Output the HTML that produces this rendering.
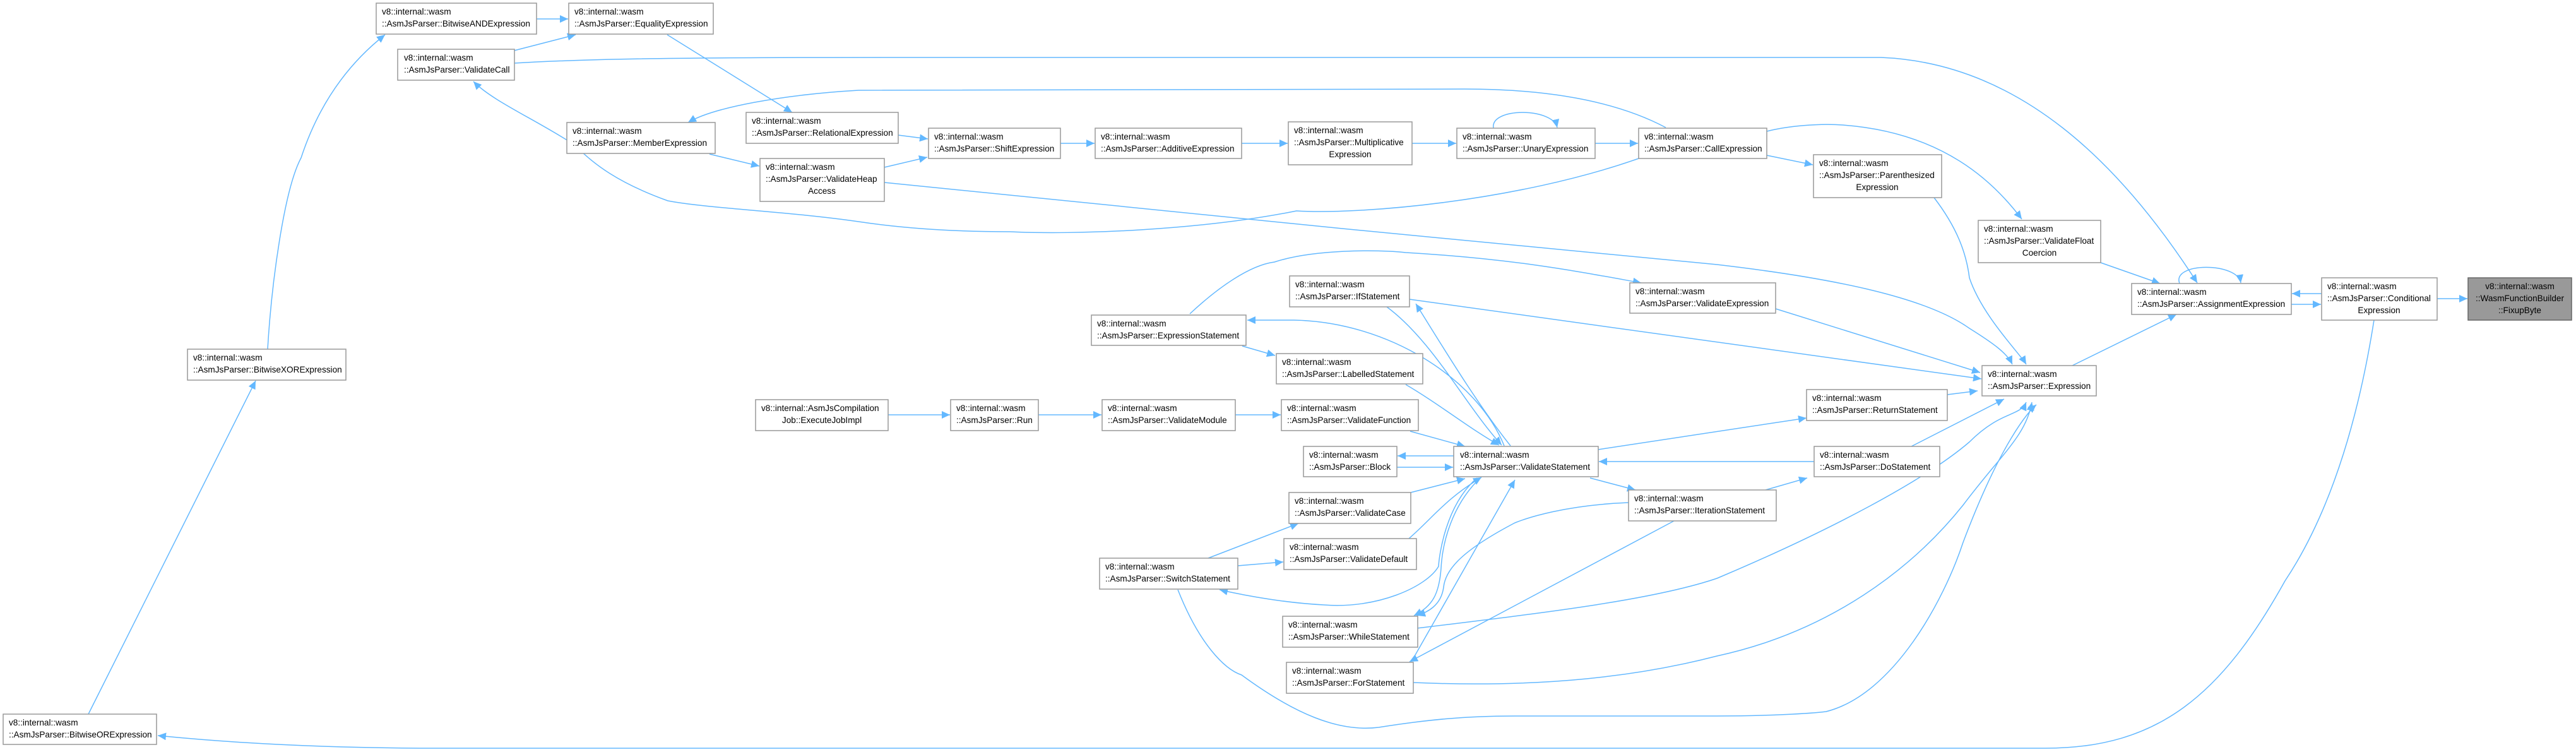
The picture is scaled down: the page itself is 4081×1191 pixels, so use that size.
<!DOCTYPE html>
<html><head><meta charset="utf-8"><style>
html,body{margin:0;padding:0;background:#fff;}
svg{display:block;}
text{font-family:"Liberation Sans",sans-serif;font-size:13.6px;fill:#000;}
.n{fill:#fff;stroke:#999;stroke-width:1.5;}
.e{fill:none;stroke:#63b8ff;stroke-width:1.5;}
</style></head><body>
<svg width="4081" height="1191" viewBox="0 0 4081 1191" xmlns="http://www.w3.org/2000/svg">
<defs>
<marker id="a" markerUnits="userSpaceOnUse" markerWidth="14" markerHeight="12" refX="13" refY="6" orient="auto">
<path d="M0,0 L13,6 L0,12 z" fill="#63b8ff"/>
</marker>
</defs>
<g marker-end="url(#a)">
<path class="e" d="M850,30 L900,30"/>
<path class="e" d="M815,80 L912,55"/>
<path class="e" d="M1057,55 L1255,178"/>
<path class="e" d="M815,100 C900,95 1000,91 1400,91 L2980,91 C3200,100 3360,260 3481,448"/>
<path class="e" d="M2639,202 C2560,160 2450,141 2320,141 L1360,143 C1240,150 1130,170 1090,194"/>
<path class="e" d="M1124,244 L1203,263"/>
<path class="e" d="M1423,214 L1470,220"/>
<path class="e" d="M1401,265 L1469,249"/>
<path class="e" d="M1680,227 L1734,227"/>
<path class="e" d="M1967,227 L2040,227"/>
<path class="e" d="M2237,227 L2307,227"/>
<path class="e" d="M2366,203 C2360,170 2460,170 2467,202"/>
<path class="e" d="M2527,227 L2595,227"/>
<path class="e" d="M2596,251 C2400,320 2150,340 2054,334 C1900,365 1700,372 1600,367 C1500,367 1420,360 1360,351 C1250,335 1120,330 1058,318 C980,290 940,260 911,230 C850,190 780,160 750,129"/>
<path class="e" d="M1401,289 C1800,330 2300,380 2720,419 C2900,440 3050,470 3120,520 C3160,545 3180,560 3188,577"/>
<path class="e" d="M2799,246 L2872,261"/>
<path class="e" d="M2799,208 C2830,200 2880,195 2920,198 C3080,210 3160,290 3203,347"/>
<path class="e" d="M3064,313 C3100,360 3115,400 3120,440 C3140,500 3200,560 3210,577"/>
<path class="e" d="M3328,416 L3422,449"/>
<path class="e" d="M3453,449 C3440,415 3545,415 3550,448"/>
<path class="e" d="M3678,465 L3631,465"/>
<path class="e" d="M3630,482 L3677,482"/>
<path class="e" d="M3861,473 L3909,473"/>
<path class="e" d="M3283,579 L3448,498"/>
<path class="e" d="M3761,507 C3740,640 3700,800 3620,920 C3520,1100 3420,1185 3241,1185 L694,1185 C500,1185 350,1175 250,1165"/>
<path class="e" d="M140,1131 L405,603"/>
<path class="e" d="M424,553 C430,450 450,300 477,250 C500,180 540,110 610,55"/>
<path class="e" d="M1885,497 C1930,455 1980,420 2019,415 C2080,395 2180,395 2227,400 C2400,410 2500,430 2600,448"/>
<path class="e" d="M2813,489 L3137,590"/>
<path class="e" d="M2233,474 L3139,600"/>
<path class="e" d="M2383,706 C2340,600 2200,510 2050,507 L1976,507"/>
<path class="e" d="M1968,548 L2020,563"/>
<path class="e" d="M2393,706 C2340,640 2280,540 2243,481"/>
<path class="e" d="M2197,486 C2270,540 2320,640 2379,705"/>
<path class="e" d="M2227,609 C2280,640 2330,680 2375,705"/>
<path class="e" d="M1407,657 L1505,657"/>
<path class="e" d="M1645,657 L1745,657"/>
<path class="e" d="M1957,657 L2029,657"/>
<path class="e" d="M2234,683 L2321,707"/>
<path class="e" d="M2303,722 L2214,722"/>
<path class="e" d="M2213,740 L2302,740"/>
<path class="e" d="M2235,780 L2321,758"/>
<path class="e" d="M2232,853 C2270,820 2290,790 2347,756"/>
<path class="e" d="M1914,884 L2057,829"/>
<path class="e" d="M1961,896 L2033,890"/>
<path class="e" d="M2340,757 C2290,800 2280,880 2279,897 C2260,930 2180,965 2097,958 C2040,955 1980,945 1932,934"/>
<path class="e" d="M2345,757 C2300,800 2285,860 2283,900 C2280,940 2270,960 2240,975"/>
<path class="e" d="M2236,1048 L2400,760"/>
<path class="e" d="M2652,825 L2233,1048"/>
<path class="e" d="M2580,796 C2480,800 2420,820 2400,828 C2320,870 2290,900 2287,930 C2283,960 2260,970 2245,975"/>
<path class="e" d="M2519,757 L2591,776"/>
<path class="e" d="M2797,776 L2863,757"/>
<path class="e" d="M2874,731 L2533,731"/>
<path class="e" d="M2532,712 L2862,662"/>
<path class="e" d="M3085,625 L3133,619"/>
<path class="e" d="M3028,707 L3175,632"/>
<path class="e" d="M2245,995 C2450,970 2620,950 2720,916 C2900,840 3050,760 3120,700 C3170,650 3200,660 3210,637"/>
<path class="e" d="M2239,1081 C2450,1090 2600,1070 2720,1039 C2900,1000 3030,900 3110,800 C3170,720 3210,690 3219,637"/>
<path class="e" d="M1866,934 C1900,1020 1940,1060 1967,1069 C2050,1130 2120,1160 2184,1152 C2260,1140 2320,1134 2400,1134 L2720,1134 C2800,1134 2870,1130 2893,1127 C3000,1100 3080,950 3110,859 C3170,700 3215,650 3226,641"/>
</g>
<!-- nodes -->
<g>
<rect class="n" x="596" y="5" width="254" height="49"/><text x="605" y="23">v8::internal::wasm</text><text x="605" y="42">::AsmJsParser::BitwiseANDExpression</text>
<rect class="n" x="901" y="5" width="229" height="49"/><text x="910" y="23">v8::internal::wasm</text><text x="910" y="42">::AsmJsParser::EqualityExpression</text>
<rect class="n" x="630" y="78" width="185" height="49"/><text x="640" y="96">v8::internal::wasm</text><text x="640" y="115">::AsmJsParser::ValidateCall</text>
<rect class="n" x="898" y="194" width="235" height="49"/><text x="907" y="212">v8::internal::wasm</text><text x="907" y="231">::AsmJsParser::MemberExpression</text>
<rect class="n" x="1182" y="178" width="241" height="49"/><text x="1191" y="196">v8::internal::wasm</text><text x="1191" y="215">::AsmJsParser::RelationalExpression</text>
<rect class="n" x="1204" y="251" width="197" height="68"/><text x="1213" y="269">v8::internal::wasm</text><text x="1213" y="288">::AsmJsParser::ValidateHeap</text><text x="1302" y="307" text-anchor="middle">Access</text>
<rect class="n" x="297" y="553" width="251" height="49"/><text x="306" y="571">v8::internal::wasm</text><text x="306" y="590">::AsmJsParser::BitwiseXORExpression</text>
<rect class="n" x="5" y="1131" width="243" height="48"/><text x="14" y="1149">v8::internal::wasm</text><text x="14" y="1168">::AsmJsParser::BitwiseORExpression</text>
<rect class="n" x="1471" y="203" width="209" height="48"/><text x="1480" y="221">v8::internal::wasm</text><text x="1480" y="240">::AsmJsParser::ShiftExpression</text>
<rect class="n" x="1735" y="203" width="232" height="48"/><text x="1744" y="221">v8::internal::wasm</text><text x="1744" y="240">::AsmJsParser::AdditiveExpression</text>
<rect class="n" x="2041" y="193" width="196" height="68"/><text x="2050" y="211">v8::internal::wasm</text><text x="2050" y="230">::AsmJsParser::Multiplicative</text><text x="2139" y="249" text-anchor="middle">Expression</text>
<rect class="n" x="2308" y="203" width="219" height="48"/><text x="2317" y="221">v8::internal::wasm</text><text x="2317" y="240">::AsmJsParser::UnaryExpression</text>
<rect class="n" x="2596" y="203" width="203" height="48"/><text x="2605" y="221">v8::internal::wasm</text><text x="2605" y="240">::AsmJsParser::CallExpression</text>
<rect class="n" x="2873" y="245" width="203" height="68"/><text x="2882" y="263">v8::internal::wasm</text><text x="2882" y="282">::AsmJsParser::Parenthesized</text><text x="2974" y="301" text-anchor="middle">Expression</text>
<rect class="n" x="3134" y="349" width="194" height="67"/><text x="3143" y="367">v8::internal::wasm</text><text x="3143" y="386">::AsmJsParser::ValidateFloat</text><text x="3231" y="405" text-anchor="middle">Coercion</text>
<rect class="n" x="2582" y="448" width="231" height="48"/><text x="2591" y="466">v8::internal::wasm</text><text x="2591" y="485">::AsmJsParser::ValidateExpression</text>
<rect class="n" x="3377" y="449" width="253" height="49"/><text x="3386" y="467">v8::internal::wasm</text><text x="3386" y="486">::AsmJsParser::AssignmentExpression</text>
<rect class="n" x="3678" y="440" width="183" height="67"/><text x="3687" y="458">v8::internal::wasm</text><text x="3687" y="477">::AsmJsParser::Conditional</text><text x="3769" y="496" text-anchor="middle">Expression</text>
<rect x="3910" y="440" width="164" height="67" fill="#999" stroke="#666" stroke-width="1.5"/><text x="3992" y="458" text-anchor="middle">v8::internal::wasm</text><text x="3992" y="477" text-anchor="middle">::WasmFunctionBuilder</text><text x="3992" y="496" text-anchor="middle">::FixupByte</text>
<rect class="n" x="3140" y="579" width="181" height="48"/><text x="3149" y="597">v8::internal::wasm</text><text x="3149" y="616">::AsmJsParser::Expression</text>
<rect class="n" x="2043" y="437" width="190" height="49"/><text x="2052" y="455">v8::internal::wasm</text><text x="2052" y="474">::AsmJsParser::IfStatement</text>
<rect class="n" x="1729" y="499" width="245" height="48"/><text x="1738" y="517">v8::internal::wasm</text><text x="1738" y="536">::AsmJsParser::ExpressionStatement</text>
<rect class="n" x="2022" y="560" width="232" height="48"/><text x="2031" y="578">v8::internal::wasm</text><text x="2031" y="597">::AsmJsParser::LabelledStatement</text>
<rect class="n" x="1197" y="633" width="210" height="49"/><text x="1206" y="651">v8::internal::AsmJsCompilation</text><text x="1302" y="670" text-anchor="middle">Job::ExecuteJobImpl</text>
<rect class="n" x="1506" y="633" width="139" height="49"/><text x="1515" y="651">v8::internal::wasm</text><text x="1515" y="670">::AsmJsParser::Run</text>
<rect class="n" x="1746" y="633" width="211" height="49"/><text x="1755" y="651">v8::internal::wasm</text><text x="1755" y="670">::AsmJsParser::ValidateModule</text>
<rect class="n" x="2030" y="633" width="217" height="49"/><text x="2039" y="651">v8::internal::wasm</text><text x="2039" y="670">::AsmJsParser::ValidateFunction</text>
<rect class="n" x="2065" y="707" width="148" height="48"/><text x="2074" y="725">v8::internal::wasm</text><text x="2074" y="744">::AsmJsParser::Block</text>
<rect class="n" x="2303" y="707" width="229" height="48"/><text x="2313" y="725">v8::internal::wasm</text><text x="2313" y="744">::AsmJsParser::ValidateStatement</text>
<rect class="n" x="2042" y="780" width="193" height="49"/><text x="2051" y="798">v8::internal::wasm</text><text x="2051" y="817">::AsmJsParser::ValidateCase</text>
<rect class="n" x="2034" y="853" width="210" height="49"/><text x="2043" y="871">v8::internal::wasm</text><text x="2043" y="890">::AsmJsParser::ValidateDefault</text>
<rect class="n" x="1742" y="884" width="219" height="49"/><text x="1751" y="902">v8::internal::wasm</text><text x="1751" y="921">::AsmJsParser::SwitchStatement</text>
<rect class="n" x="2580" y="776" width="234" height="49"/><text x="2589" y="794">v8::internal::wasm</text><text x="2589" y="813">::AsmJsParser::IterationStatement</text>
<rect class="n" x="2032" y="976" width="214" height="49"/><text x="2041" y="994">v8::internal::wasm</text><text x="2041" y="1013">::AsmJsParser::WhileStatement</text>
<rect class="n" x="2038" y="1049" width="201" height="49"/><text x="2047" y="1067">v8::internal::wasm</text><text x="2047" y="1086">::AsmJsParser::ForStatement</text>
<rect class="n" x="2862" y="617" width="223" height="49"/><text x="2871" y="635">v8::internal::wasm</text><text x="2871" y="654">::AsmJsParser::ReturnStatement</text>
<rect class="n" x="2874" y="707" width="199" height="48"/><text x="2883" y="725">v8::internal::wasm</text><text x="2883" y="744">::AsmJsParser::DoStatement</text>
</g>
</svg>
</body></html>
